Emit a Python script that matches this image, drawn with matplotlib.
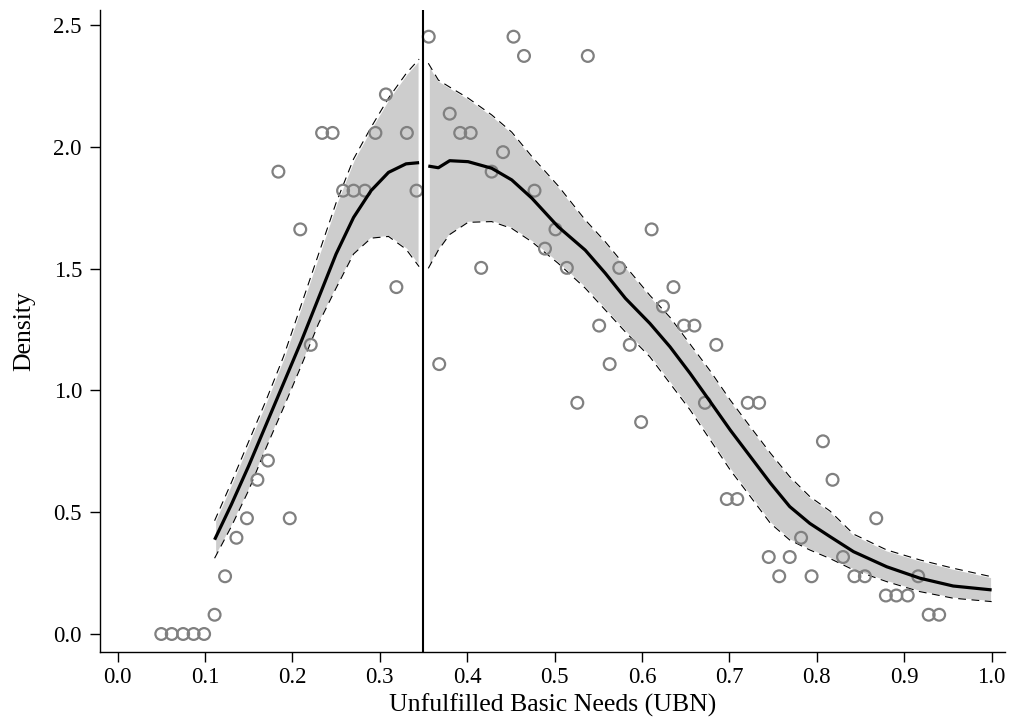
import matplotlib
matplotlib.use("Agg")
import matplotlib.pyplot as plt
import numpy as np

plt.rcParams['font.family'] = ['Liberation Serif', 'DejaVu Serif']

# ---- binned density points ----
bin_x = [0.050, 0.062, 0.075, 0.087, 0.099, 0.111, 0.123, 0.136, 0.148, 0.160,
         0.172, 0.184, 0.197, 0.209, 0.221, 0.234, 0.246, 0.258, 0.270, 0.283,
         0.295, 0.307, 0.319, 0.331, 0.342,
         0.356, 0.368, 0.380, 0.392, 0.404, 0.416, 0.428, 0.441, 0.453, 0.465,
         0.477, 0.489, 0.501, 0.514, 0.526, 0.538, 0.551, 0.563, 0.574, 0.586,
         0.599, 0.611, 0.624, 0.636, 0.648, 0.660, 0.672, 0.685, 0.697, 0.709,
         0.721, 0.734, 0.745, 0.757, 0.769, 0.782, 0.794, 0.807, 0.818, 0.830,
         0.843, 0.855, 0.868, 0.879, 0.891, 0.904, 0.916, 0.928, 0.940]
bin_density = [0.0, 0.0, 0.0, 0.0, 0.0, 0.079, 0.237, 0.395, 0.475, 0.633,
               0.712, 1.898, 0.475, 1.661, 1.187, 2.057, 2.057, 1.820, 1.820, 1.820,
               2.057, 2.215, 1.424, 2.057, 1.820,
               2.452, 1.108, 2.136, 2.057, 2.057, 1.503, 1.898, 1.978, 2.452, 2.373,
               1.820, 1.582, 1.661, 1.503, 0.949, 2.373, 1.266, 1.108, 1.503, 1.187,
               0.870, 1.661, 1.345, 1.424, 1.266, 1.266, 0.949, 1.187, 0.554, 0.554,
               0.949, 0.949, 0.316, 0.237, 0.316, 0.395, 0.237, 0.791, 0.633, 0.316,
               0.237, 0.237, 0.475, 0.158, 0.158, 0.158, 0.237, 0.079, 0.079]

# ---- fitted density, left of cutoff ----
left_x     = [0.111, 0.130, 0.150, 0.170, 0.190, 0.210, 0.230, 0.250, 0.270, 0.290, 0.310, 0.330, 0.345]
left_fit   = [0.387, 0.530, 0.690, 0.860, 1.030, 1.200, 1.380, 1.560, 1.710, 1.820, 1.895, 1.930, 1.935]
left_upper = [0.465, 0.620, 0.790, 0.960, 1.140, 1.350, 1.560, 1.770, 1.950, 2.080, 2.200, 2.300, 2.360]
left_lower = [0.311, 0.440, 0.590, 0.765, 0.930, 1.100, 1.275, 1.420, 1.560, 1.625, 1.632, 1.580, 1.508]

# ---- fitted density, right of cutoff ----
right_x     = [0.3555, 0.367, 0.380, 0.401, 0.428, 0.451, 0.474, 0.504, 0.535, 0.558, 0.581,
               0.609, 0.632, 0.655, 0.678, 0.701, 0.724, 0.747, 0.769, 0.792, 0.815,
               0.842, 0.880, 0.918, 0.956, 1.000]
right_fit   = [1.921, 1.914, 1.943, 1.939, 1.912, 1.864, 1.789, 1.672, 1.576, 1.481, 1.378,
               1.275, 1.179, 1.070, 0.954, 0.837, 0.728, 0.619, 0.523, 0.454, 0.400,
               0.338, 0.276, 0.229, 0.197, 0.181]
right_upper = [2.343, 2.274, 2.245, 2.200, 2.131, 2.060, 1.960, 1.840, 1.700, 1.610, 1.510,
               1.390, 1.300, 1.190, 1.080, 0.960, 0.850, 0.742, 0.646, 0.564, 0.505,
               0.410, 0.345, 0.304, 0.270, 0.235]
right_lower = [1.501, 1.576, 1.640, 1.690, 1.693, 1.665, 1.610, 1.522, 1.420, 1.330, 1.240,
               1.138, 1.029, 0.920, 0.797, 0.673, 0.564, 0.454, 0.386, 0.345, 0.310,
               0.263, 0.215, 0.174, 0.147, 0.133]

cutoff = 0.35

x_ticks = [0.0, 0.1, 0.2, 0.3, 0.4, 0.5, 0.6, 0.7, 0.8, 0.9, 1.0]
y_ticks = [0.0, 0.5, 1.0, 1.5, 2.0, 2.5]

W, H = 1011, 719
fig = plt.figure(figsize=(W / 100, H / 100), dpi=100)
ax = fig.add_axes([100 / W, 67 / H, (1005 - 100) / W, (652 - 10) / H])

fill_col = '#cdcdcd'
for xs, lo, up, fit in [(left_x, left_lower, left_upper, left_fit),
                        (right_x, right_lower, right_upper, right_fit)]:
    ax.fill_between(xs, lo, up, facecolor=fill_col, edgecolor='white', linewidth=1.5, zorder=1)
    ax.plot(xs, up, color='black', lw=0.8, dashes=(7, 5), zorder=2)
    ax.plot(xs, lo, color='black', lw=0.8, dashes=(7, 5), zorder=2)

ax.scatter(bin_x, bin_density, s=72, facecolors='none', edgecolors='#808080',
           linewidths=1.6, zorder=3)

for xs, fit in [(left_x, left_fit), (right_x, right_fit)]:
    ax.plot(xs, fit, color='black', lw=2.3, zorder=4, solid_capstyle='butt')

ax.axvline(cutoff, color='black', lw=1.5, zorder=5)

ax.set_xlim(-0.0201, 1.0153)
ax.set_ylim(-0.0739, 2.5616)
ax.set_xticks(x_ticks)
ax.set_xticklabels([f"{v:.1f}" for v in x_ticks])
ax.set_yticks(y_ticks)
ax.set_yticklabels([f"{v:.1f}" for v in y_ticks])
ax.tick_params(direction='out', length=7, width=1, labelsize=16.5, colors='black')
ax.tick_params(axis='x', pad=4)
ax.tick_params(axis='y', pad=6)
for s in ['top', 'right']:
    ax.spines[s].set_visible(False)
for s in ['left', 'bottom']:
    ax.spines[s].set_linewidth(1.0)

ax.set_xlabel('Unfulfilled Basic Needs (UBN)', fontsize=18.5, labelpad=4)
ax.set_ylabel('Density', fontsize=18.5, labelpad=13)

fig.savefig('out.png', dpi=100)
